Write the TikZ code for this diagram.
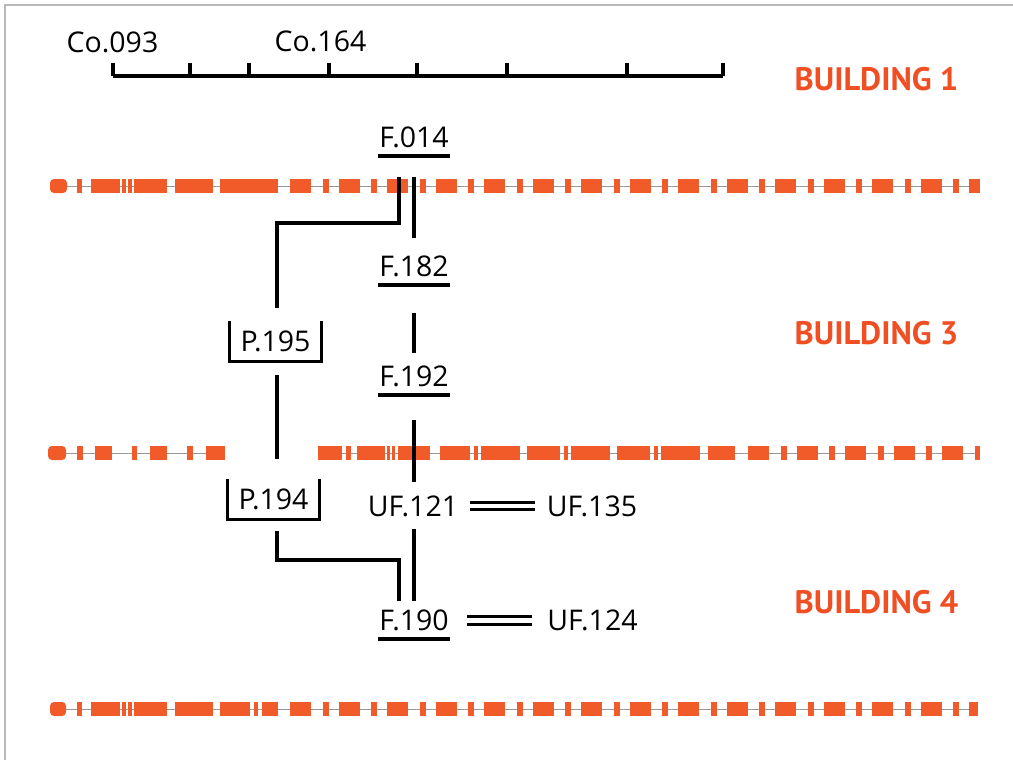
\documentclass[tikz,border=0pt]{standalone}
\usepackage{fontspec}
\setmainfont{Open Sans}
\newfontfamily\bldfont{PT Sans}
\definecolor{borange}{HTML}{F15A29}
\definecolor{btext}{HTML}{F04E23}
\newcommand\bldblocks[2]{\foreach \a/\b in {#2} {\fill[borange] (\a,#1-7) rectangle (\b,#1+7);}}
\begin{document}
\begin{tikzpicture}[x=1pt,y=-1pt,
  lbl/.style={font=\fontsize{28.5}{31}\selectfont, inner xsep=1pt, inner ysep=0pt, text height=20pt, text depth=0pt},
  pbox/.style={lbl, minimum width=92pt, minimum height=40pt},
  bld/.style={font=\bldfont\bfseries\fontsize{32.5}{35}\selectfont, text=btext, inner sep=0pt},
  blk/.style={line width=3.2pt, black},
  ul/.style={line width=3.6pt, black},
  dbl/.style={double, double distance=4.2pt, line width=3.2pt, black},
  thin/.style={line width=1pt, gray!80},
  regdash/.style={borange, line width=14pt, dash pattern=on 21pt off 11.5pt on 6pt off 10pt}
]
\useasboundingbox (0,0) rectangle (1013,760);
\fill[white] (0,0) rectangle (1013,760);
\draw[gray!55, line width=2pt] (5,760) -- (5,5) -- (1013,5);

% scale bar
\draw[blk] (113,76) -- (723,76);
\foreach \t in {113,190,249,329,417,507,627,723} \draw[blk] (\t,76) -- (\t,63);
\node[lbl] (co093) at (112.5,43) {Co.093};
\node[lbl] (co164) at (320.5,42) {Co.164};

% building labels
\node[bld] (b1lbl) at (876.5,79.5) {BUILDING 1};
\node[bld] (b3lbl) at (876.5,333) {BUILDING 3};
\node[bld] (b4lbl) at (876.5,602) {BUILDING 4};

% dashed building limits
\draw[thin] (50,186) -- (980,186);
\fill[borange, rounded corners=4pt] (50,179) rectangle (67,193);
\bldblocks{186}{77/82,91/120,122/126,128/132,134/167,175/213,220/278}
\draw[regdash] (290,186) -- (980,186);

\draw[thin] (48,453) -- (225,453);
\draw[thin] (318,453) -- (980,453);
\fill[borange, rounded corners=4pt] (48,446) rectangle (66,460);
\bldblocks{453}{77/83,95/112,132/137,150/167,187/193,206/225,318/342,346/351,357/385,387/390,392/395,398/430,440/470,474/478,481/520,527/560,564/568,571/610,617/650,654/658,661/700,708/735}
\draw[regdash] (748,453) -- (980,453);

\draw[thin] (50,709) -- (978,709);
\fill[borange, rounded corners=4pt] (50,702) rectangle (66,716);
\bldblocks{709}{77/82,91/120,122/126,128/132,134/167,175/213,220/250,254/258,262/278}
\draw[regdash] (290,709) -- (978,709);

% feature nodes
\node[lbl] (f014) at (414,137.5) {F.014};
\node[lbl] (f182) at (414,266) {F.182};
\node[lbl] (f192) at (414,376) {F.192};
\node[lbl] (uf121) at (413,506) {UF.121};
\node[lbl] (uf135) at (592,506) {UF.135};
\node[lbl] (f190) at (414,620.5) {F.190};
\node[lbl] (uf124) at (592.5,620) {UF.124};
\node[pbox] (p195) at (275.5,341) {P.195};
\node[pbox] (p194) at (273.5,499.5) {P.194};

% underlines
\foreach \n in {f014,f182,f192,f190}
  \draw[ul] ([yshift=-8.5pt]\n.south west) -- ([yshift=-8.5pt]\n.south east);

% brackets
\foreach \n in {p195,p194}
  \draw[blk] (\n.north west) -- (\n.south west) -- (\n.south east) -- (\n.north east);

% connectors
\coordinate (b1) at (277,223);
\coordinate (b2) at (277,560);
\draw[blk, shorten <=29.5pt, shorten >=13pt] ([xshift=-15pt]f014.south) |- (b1) -- (b1 |- p195.north);
\draw[blk, shorten <=29.5pt, shorten >=18pt] (f014.south) -- (f182.north);
\draw[blk, shorten <=14pt, shorten >=20pt] (b1 |- p195.south) -- (b1 |- p194.north);
\draw[blk, shorten <=37pt, shorten >=13pt] (f182.south) -- (f192.north);
\draw[blk, shorten <=34pt, shorten >=14pt] (f192.south) -- (f192.south |- uf121.north);
\draw[blk, shorten <=13pt, shorten >=9.5pt] (f190.north |- uf121.south) -- (f190.north);
\draw[blk, shorten <=11pt] (b2 |- p194.south) -- (b2) -| ([xshift=-15pt,yshift=9.5pt]f190.north);
\draw[dbl, shorten <=11pt, shorten >=11pt] (uf121.east) -- (uf135.west);
\draw[dbl, shorten <=17pt, shorten >=14pt] (f190.east) -- (f190.east -| uf124.west);
\end{tikzpicture}
\end{document}
